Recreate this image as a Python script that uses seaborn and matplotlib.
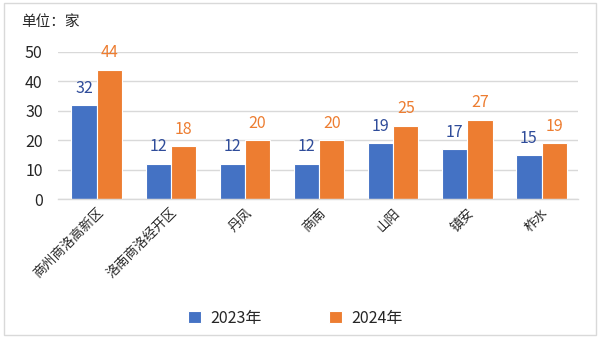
import matplotlib
matplotlib.use("Agg")
import matplotlib.pyplot as plt
import seaborn as sns
import pandas as pd
from matplotlib.patches import Rectangle

categories = ["商州商洛高新区", "洛南商洛经开区", "丹凤", "商南", "山阳", "镇安", "柞水"]
years = ["2023年", "2024年"]
values_2023 = [32, 12, 12, 12, 19, 17, 15]
values_2024 = [44, 18, 20, 20, 25, 27, 19]

sns.set_theme(style="white")
plt.rcParams['font.family'] = ['Noto Sans CJK SC', 'DejaVu Sans']

df = pd.DataFrame({
    "cat": categories * 2,
    "year": [years[0]] * len(categories) + [years[1]] * len(categories),
    "val": values_2023 + values_2024,
})

colors = ["#4472C4", "#ED7D31"]
label_colors = ["#2F4C9A", "#ED7D31"]

fig = plt.figure(figsize=(6.01, 3.42), dpi=100)
ax = fig.add_axes([0.0965, 0.418, 0.865, 0.43])
sns.barplot(data=df, x="cat", y="val", hue="year", palette=colors, ax=ax,
            width=0.68, saturation=1, legend=True, edgecolor="white", linewidth=0.8)

for i, cont in enumerate(ax.containers):
    ax.bar_label(cont, labels=[str(int(v)) for v in cont.datavalues], padding=6,
                 color=label_colors[i], fontsize=11.5)

ax.set_ylim(0, 50)
ax.set_yticks(range(0, 51, 10))
ax.yaxis.grid(True, color="#D9D9D9", linewidth=1)
ax.set_axisbelow(True)
for s in ["top", "right", "left"]:
    ax.spines[s].set_visible(False)
ax.spines["bottom"].set_color("#D9D9D9")
ax.spines["bottom"].set_linewidth(1)
ax.set_xlabel("")
ax.set_ylabel("")
ax.tick_params(axis="y", length=0, labelsize=11.5, pad=11)
ax.tick_params(axis="x", length=0, labelsize=9.5, pad=5)
ax.set_xlim(-0.52, 6.49)
plt.setp(ax.get_xticklabels(), rotation=45, ha="right", rotation_mode="anchor")

leg = ax.legend(loc="center", bbox_to_anchor=(0.492, 0.07), bbox_transform=fig.transFigure,
                ncol=2, frameon=False,
                fontsize=11.5, handlelength=0.8, handleheight=0.8, columnspacing=4.2,
                handletextpad=0.6)

fig.text(0.035, 0.935, "单位：家", fontsize=10.5, ha="left", va="center")

fig.patches.append(Rectangle((0.006, 0.02), 0.985, 0.97, transform=fig.transFigure,
                             fill=False, edgecolor="#D9D9D9", linewidth=1))

fig.savefig("out.png", dpi=100)
